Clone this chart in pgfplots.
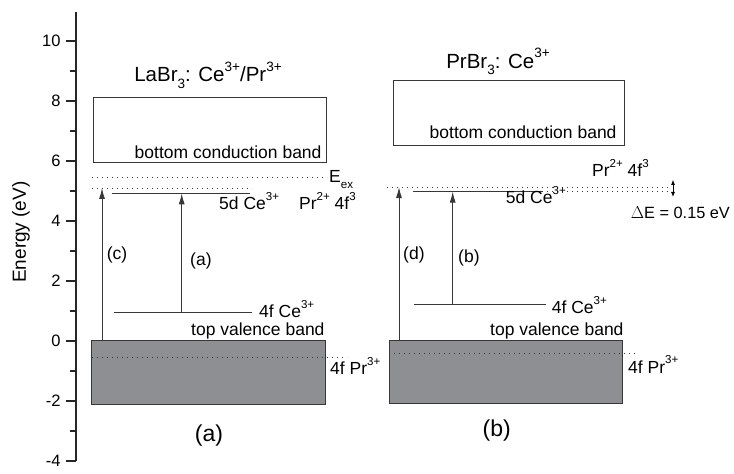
\documentclass[border=0pt]{standalone}
\usepackage{pgfplots}
\pgfplotsset{compat=1.18}
\usepackage{graphicx}
\usepackage{fontspec}
\setmainfont{Liberation Sans}
\usetikzlibrary{arrows.meta}

\definecolor{linegray}{RGB}{55,55,55}
\definecolor{bandfill}{RGB}{142,143,146}

\newcommand{\lab}{\fontsize{17.5}{20}\selectfont}
\newcommand{\ttl}{\fontsize{20.5}{24}\selectfont}
% small raised / lowered indices
\newcommand{\sps}[1]{\raisebox{0.52em}{\scalebox{0.66}{#1}}}
\newcommand{\sbs}[1]{\raisebox{-0.32em}{\scalebox{0.66}{#1}}}

\begin{document}
\begin{tikzpicture}
\begin{axis}[
  scale only axis,
  width=658pt, height=449.1pt,
  xmin=76, xmax=734,
  ymin=-4, ymax=10.97,
  axis x line=none,
  axis y line=left,
  axis line style={-, line width=1.2pt, black!85},
  ytick={-4,-2,0,2,4,6,8,10},
  minor ytick={-3,-1,1,3,5,7,9},
  tick align=outside,
  major tick length=10pt,
  minor tick length=6pt,
  every tick/.style={line width=1.1pt, black!85},
  /pgf/number format/assume math mode=true,
  yticklabel style={font=\fontsize{16.5}{18}\selectfont, xshift=-2pt},
  ylabel={Energy (eV)},
  ylabel style={font=\fontsize{19}{21}\selectfont, at={(axis cs:21,3.63)}, anchor=center},
  clip=false,
]
% ---- panel (a): LaBr3:Ce/Pr ----
% conduction band
\addplot[draw=linegray, line width=0.9pt] coordinates {(93,8.11) (326,8.11) (326,5.96) (93,5.96)} -- cycle;
% valence band
\addplot[draw=linegray, fill=bandfill, line width=1pt] coordinates {(92,0) (325,0) (325,-2.13) (92,-2.13)} -- cycle;
% Pr3+ 4f ground level
\addplot[draw=linegray, line width=0.9pt, dash pattern=on 1.4pt off 3.6pt] coordinates {(92,-0.54) (347,-0.54)};
% exciton and Pr2+ levels
\addplot[draw=linegray, line width=0.9pt, dash pattern=on 1.4pt off 3.6pt] coordinates {(92,5.44) (327,5.44)};
\addplot[draw=linegray, line width=0.9pt, dash pattern=on 1.4pt off 3.6pt] coordinates {(92,5.10) (252,5.10)};
% Ce3+ levels
\addplot[draw=linegray, line width=1pt] coordinates {(112,4.92) (250,4.92)};
\addplot[draw=linegray, line width=1pt] coordinates {(114,0.94) (252,0.94)};
% transitions
\addplot[draw=linegray, line width=0.9pt, -{Latex[length=11pt,width=6pt]}] coordinates {(102,0) (102,5.10)};
\addplot[draw=linegray, line width=0.9pt, -{Latex[length=11pt,width=6pt]}] coordinates {(181.7,0.94) (181.7,4.92)};

% ---- panel (b): PrBr3:Ce ----
\addplot[draw=linegray, line width=0.9pt] coordinates {(393,8.70) (624,8.70) (624,6.53) (393,6.53)} -- cycle;
\addplot[draw=linegray, fill=bandfill, line width=1pt] coordinates {(389,0.03) (622,0.03) (622,-2.10) (389,-2.10)} -- cycle;
\addplot[draw=linegray, line width=0.9pt, dash pattern=on 1.4pt off 3.6pt] coordinates {(389,-0.43) (638,-0.43)};
\addplot[draw=linegray, line width=0.9pt, dash pattern=on 1.4pt off 3.6pt] coordinates {(387,5.13) (670,5.13)};
\addplot[draw=linegray, line width=0.9pt, dash pattern=on 1.4pt off 3.6pt] coordinates {(542,4.98) (670,4.98)};
\addplot[draw=linegray, line width=1pt] coordinates {(413,4.98) (542,4.98)};
\addplot[draw=linegray, line width=1pt] coordinates {(414,1.20) (546,1.20)};
\addplot[draw=linegray, line width=0.9pt, -{Latex[length=11pt,width=6pt]}] coordinates {(399,0.03) (399,5.13)};
\addplot[draw=linegray, line width=0.9pt, -{Latex[length=11pt,width=6pt]}] coordinates {(452.7,1.20) (452.7,4.98)};
% energy gap marker
\addplot[draw=black, line width=0.8pt, {Latex[length=5pt,width=4pt]}-{Latex[length=5pt,width=4pt]}] coordinates {(673,5.37) (673,4.80)};

% ---- text ----
\node[anchor=base, font=\ttl] at (axis cs:208,8.64) {LaBr\sbs{3}: Ce\sps{3+}/Pr\sps{3+}};
\node[anchor=base, font=\ttl] at (axis cs:498,9.09) {PrBr\sbs{3}: Ce\sps{3+}};

\node[anchor=base east, font=\lab, inner sep=0pt] at (axis cs:321.7,6.07) {bottom conduction band};
\node[anchor=base east, font=\lab, inner sep=0pt] at (axis cs:616.7,6.76) {bottom conduction band};

\node[anchor=base west, font=\lab, inner sep=0pt] at (axis cs:219,4.37) {5d Ce\sps{3+}};
\node[anchor=base west, font=\lab, inner sep=0pt] at (axis cs:505.7,4.59) {5d Ce\sps{3+}};

\node[anchor=base west, font=\lab, inner sep=0pt] at (axis cs:299,4.37) {Pr\sps{2+} 4f\sps{3}};
\node[anchor=base west, font=\lab, inner sep=0pt] at (axis cs:592,5.48) {Pr\sps{2+} 4f\sps{3}};

\node[anchor=base west, font=\lab, inner sep=0pt] at (axis cs:329,5.28) {E\sbs{ex}};
\node[anchor=base west, font=\fontsize{16.3}{19}\selectfont, inner sep=0pt] at (axis cs:630.7,4.07) {$\Delta$E = 0.15 eV};

\node[anchor=base west, font=\lab, inner sep=0pt] at (axis cs:259,0.79) {4f Ce\sps{3+}};
\node[anchor=base west, font=\lab, inner sep=0pt] at (axis cs:551.7,0.90) {4f Ce\sps{3+}};

\node[anchor=base west, font=\lab, inner sep=0pt] at (axis cs:191,0.17) {top valence band};
\node[anchor=base west, font=\lab, inner sep=0pt] at (axis cs:490,0.18) {top valence band};

\node[anchor=base west, font=\lab, inner sep=0pt] at (axis cs:330,-1.13) {4f Pr\sps{3+}};
\node[anchor=base west, font=\lab, inner sep=0pt] at (axis cs:628,-1.07) {4f Pr\sps{3+}};

\node[anchor=base west, font=\lab, inner sep=0pt] at (axis cs:106.7,2.70) {(c)};
\node[anchor=base west, font=\lab, inner sep=0pt] at (axis cs:190,2.53) {(a)};
\node[anchor=base west, font=\lab, inner sep=0pt] at (axis cs:403,2.70) {(d)};
\node[anchor=base west, font=\lab, inner sep=0pt] at (axis cs:458,2.60) {(b)};

\node[anchor=base, font=\fontsize{23}{26}\selectfont] at (axis cs:209,-3.36) {(a)};
\node[anchor=base, font=\fontsize{23}{26}\selectfont] at (axis cs:496.7,-3.19) {(b)};

\coordinate (BL) at (axis cs:0,-4.42);
\coordinate (TR) at (axis cs:734,11.3667);
\end{axis}
\pgfresetboundingbox
\useasboundingbox (BL) rectangle (TR);
\end{tikzpicture}
\end{document}
